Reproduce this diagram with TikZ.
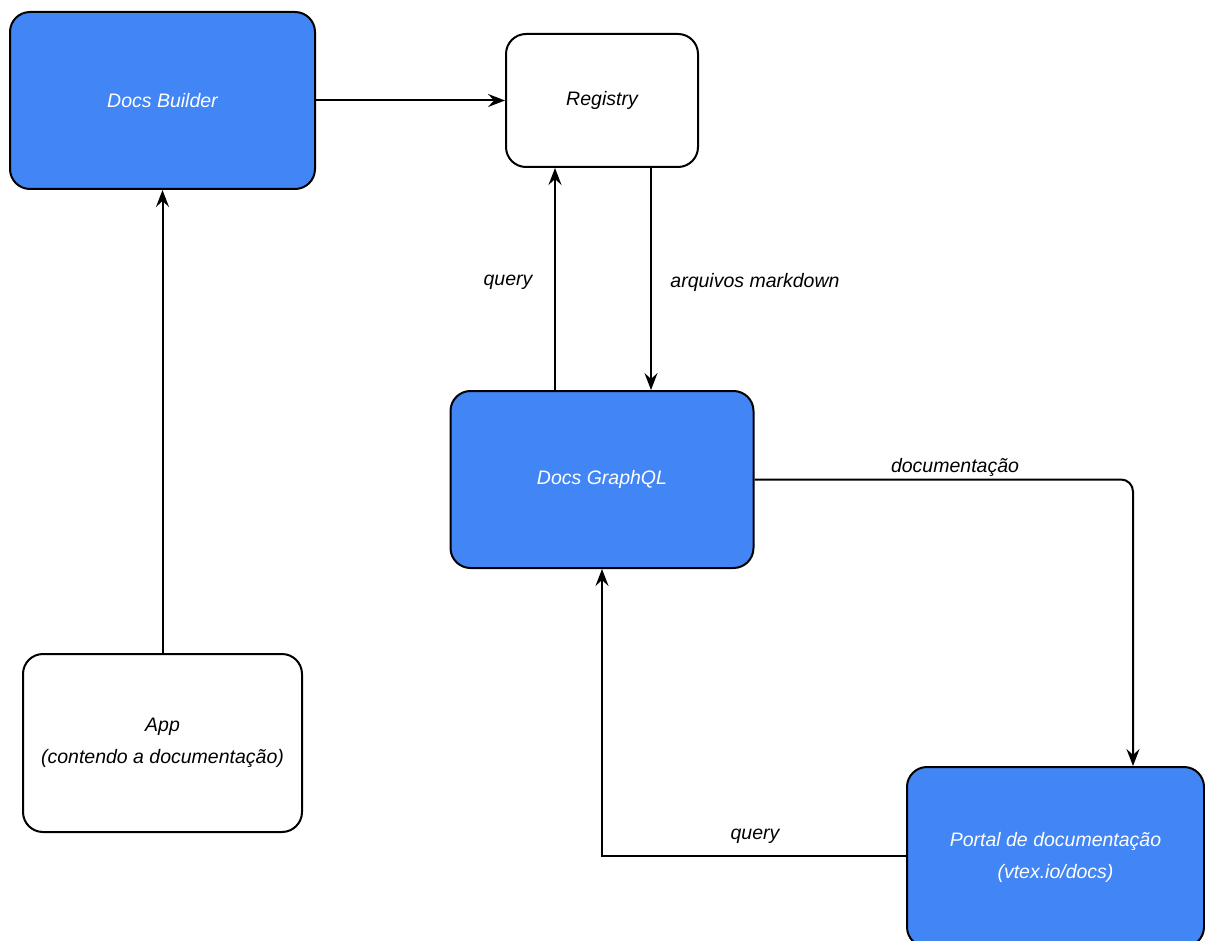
\documentclass[tikz,border=0pt]{standalone}
\usepackage{fontspec}
\setmainfont{Liberation Sans}
\usetikzlibrary{arrows.meta,calc}
\definecolor{gblue}{HTML}{4285F4}
\begin{document}
\begin{tikzpicture}[x=1pt,y=-1pt,
  box/.style={draw=black,line width=2pt,rounded corners=20pt,inner sep=0pt,align=center,
    font=\fontsize{19.5}{32}\selectfont\itshape},
  bluebox/.style={box,fill=gblue,text=white},
  whitebox/.style={box,fill=white,text=black},
  arr/.style={line width=2pt,-{Stealth[length=17pt,width=13pt,inset=6pt]}},
  lbl/.style={font=\fontsize{19.5}{22}\selectfont\itshape,text=black,inner sep=0pt}]
\useasboundingbox (0,0) rectangle (1205,941);
\clip (0,0) rectangle (1205,941);
\node[bluebox,minimum width=305pt,minimum height=177pt] (builder) at (162.5,100.5) {Docs Builder};
\node[whitebox,minimum width=192pt,minimum height=133pt] (registry) at (602,100.5) {Registry};
\node[bluebox,minimum width=303pt,minimum height=177pt] (graphql) at (602,479.5) {Docs GraphQL};
\node[whitebox,minimum width=279pt,minimum height=178pt] (app) at (162.5,743) {App\\(contendo a documentação)};
\node[bluebox,minimum width=297pt,minimum height=180pt] (portal) at (1055.5,857) {Portal de documentação\\(vtex.io/docs)};
\draw[arr] (builder.east) -- (registry.west);
\draw[arr] (app.north) -- (builder.south);
\draw[arr] ([xshift=-47pt]graphql.north) -- ([xshift=-47pt]registry.south);
\draw[arr] ([xshift=49pt]registry.south) -- ([xshift=49pt]graphql.north);
\node[lbl] (lq1) at (508,282) {query};
\node[lbl] (lmd) at (755,282) {arquivos markdown};
\draw[arr,rounded corners=12pt] (graphql.east) -| ([xshift=77.5pt]portal.north);
\node[lbl] (ldoc) at (955,467) {documentação};
\draw[arr] (portal.west |- 0,856) -| (graphql.south);
\node[lbl] (lq2) at (755,836) {query};
\end{tikzpicture}
\end{document}
